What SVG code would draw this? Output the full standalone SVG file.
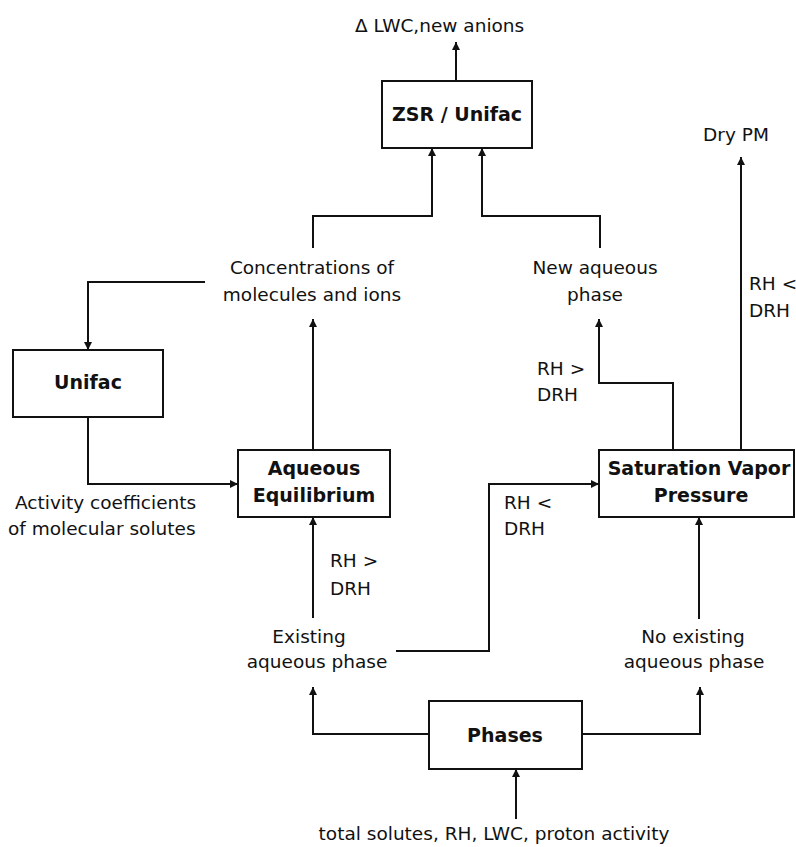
<svg xmlns="http://www.w3.org/2000/svg" width="796" height="847" viewBox="0 0 796 847">
<defs>
<marker id="ah" markerUnits="userSpaceOnUse" markerWidth="8" markerHeight="8" refX="8" refY="4" orient="auto">
<path d="M0,0 L8,4 L0,8 z" fill="#111"/>
</marker>
<style>
.box{fill:#fff;stroke:#111;stroke-width:2}
.b{font-family:"DejaVu Sans",Verdana,sans-serif;font-weight:bold;font-size:19px;fill:#111;text-anchor:middle}
.t{font-family:"DejaVu Sans",Verdana,sans-serif;font-size:18.5px;fill:#111}
.m{text-anchor:middle}
.c{fill:none;stroke:#111;stroke-width:2;marker-end:url(#ah)}
</style>
</defs>
<rect width="796" height="847" fill="#fff"/>
<g id="connectors">
<path class="c" d="M456,81 V42"/>
<path class="c" d="M313,248 V216 H432 V148"/>
<path class="c" d="M600,248 V216 H482 V148"/>
<path class="c" d="M205,282 H88 V350"/>
<path class="c" d="M88,417 V484 H238"/>
<path class="c" d="M313,450 V319"/>
<path class="c" d="M313,618 V517"/>
<path class="c" d="M396,651 H489 V484 H599"/>
<path class="c" d="M673,450 V383 H599 V319"/>
<path class="c" d="M741,450 V157"/>
<path class="c" d="M699,619 V517"/>
<path class="c" d="M429,734 H313 V687"/>
<path class="c" d="M582,734 H700 V687"/>
<path class="c" d="M516,819 V769"/>
</g>
<g id="zsr">
<rect class="box" x="382" y="81" width="150" height="67"/>
<text class="b" x="457" y="121">ZSR / Unifac</text>
</g>
<g id="unifac">
<rect class="box" x="13" y="350" width="150" height="67"/>
<text class="b" x="88" y="389">Unifac</text>
</g>
<g id="aqueous">
<rect class="box" x="238" y="450" width="152" height="67"/>
<text class="b" x="314" y="475">Aqueous</text>
<text class="b" x="314" y="502">Equilibrium</text>
</g>
<g id="saturation">
<rect class="box" x="599" y="450" width="195" height="67"/>
<text class="b" x="699" y="475">Saturation Vapor</text>
<text class="b" x="701" y="502">Pressure</text>
</g>
<g id="phases">
<rect class="box" x="429" y="701" width="153" height="68"/>
<text class="b" x="505" y="742">Phases</text>
</g>
<g id="labels">
<text class="t" x="355" y="32">Δ LWC,new anions</text>
<text class="t m" x="736" y="141">Dry PM</text>
<text class="t m" x="312" y="274">Concentrations of</text>
<text class="t m" x="312" y="301">molecules and ions</text>
<text class="t m" x="595" y="274">New aqueous</text>
<text class="t m" x="595" y="301">phase</text>
<text class="t" x="749" y="290" font-size="17">RH &lt;</text>
<text class="t" x="749" y="317" font-size="17">DRH</text>
<text class="t" x="537" y="375">RH &gt;</text>
<text class="t" x="537" y="401">DRH</text>
<text class="t" x="15" y="509">Activity coefficients</text>
<text class="t" x="8" y="535">of molecular solutes</text>
<text class="t" x="504" y="509">RH &lt;</text>
<text class="t" x="504" y="535">DRH</text>
<text class="t" x="330" y="567">RH &gt;</text>
<text class="t" x="330" y="595">DRH</text>
<text class="t m" x="309" y="643">Existing</text>
<text class="t m" x="317" y="668">aqueous phase</text>
<text class="t m" x="693" y="643">No existing</text>
<text class="t m" x="694" y="668">aqueous phase</text>
<text class="t m" x="494" y="840">total solutes, RH, LWC, proton activity</text>
</g>
</svg>
